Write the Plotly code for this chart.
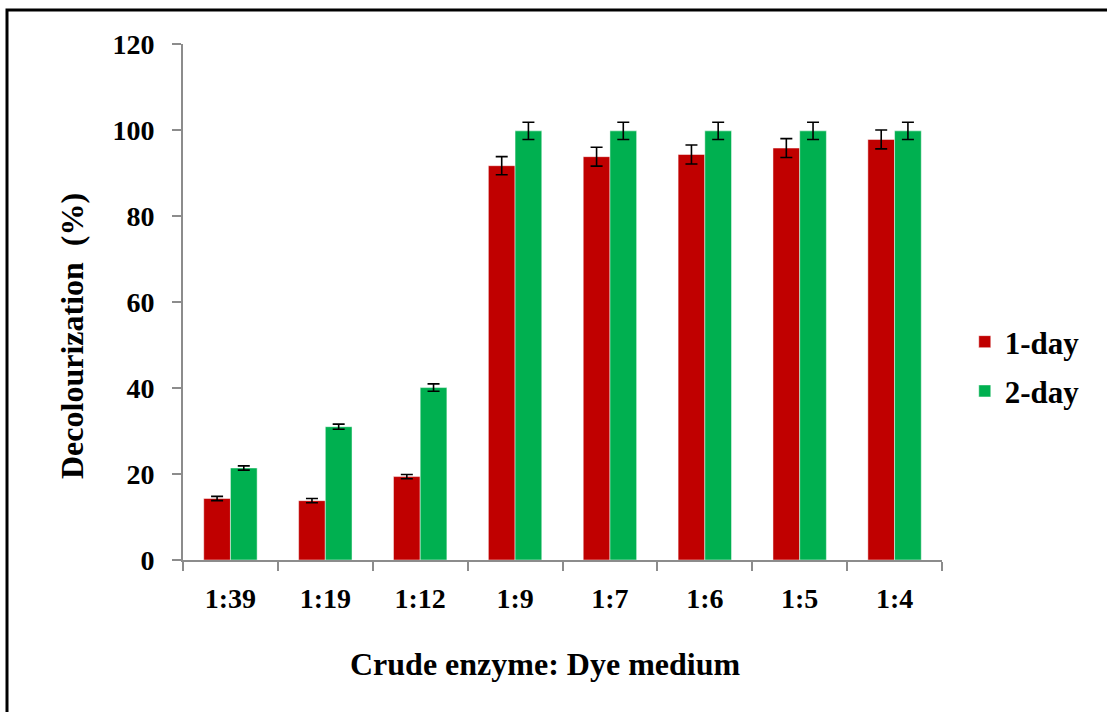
import plotly.graph_objects as go

categories = ["1:39", "1:19", "1:12", "1:9", "1:7", "1:6", "1:5", "1:4"]
day1 = [14.3, 13.8, 19.4, 91.7, 93.8, 94.3, 95.8, 97.8]
day1_err = [0.5, 0.5, 0.5, 2.1, 2.2, 2.2, 2.2, 2.2]
day2 = [21.4, 31.0, 40.1, 99.8, 99.8, 99.8, 99.8, 99.8]
day2_err = [0.5, 0.6, 0.85, 2.0, 2.0, 2.0, 2.0, 2.0]

FONT = "Liberation Serif, Times New Roman, serif"
err_style = dict(type="data", visible=True, color="black", thickness=1.6, width=6)

fig = go.Figure()
fig.add_trace(go.Bar(
    x=categories, y=day1, name="1-day", legendgroup="a",
    marker=dict(color="#C00000", line=dict(color="rgba(255,255,255,0.6)", width=0.8)),
    error_y=dict(array=day1_err, **err_style),
))
fig.add_trace(go.Bar(
    x=categories, y=day2, name="2-day", legendgroup="b",
    marker=dict(color="#00B050", line=dict(color="rgba(255,255,255,0.6)", width=0.8)),
    error_y=dict(array=day2_err, **err_style),
))

fig.update_layout(
    width=1107, height=712,
    margin=dict(l=183, r=165, t=44, b=152),
    paper_bgcolor="white", plot_bgcolor="white",
    barmode="group", bargap=0.437, bargroupgap=0,
    font=dict(family=FONT, color="black"),
    showlegend=True,
    legend=dict(
        x=1.03, y=0.375, xanchor="left", yanchor="middle",
        font=dict(family=FONT, size=31, color="black", weight="bold"),
        tracegroupgap=6, bgcolor="rgba(0,0,0,0)",
    ),
    xaxis=dict(
        showline=True, linecolor="#8c8c8c", linewidth=2,
        ticks="outside", tickson="boundaries", ticklen=9, tickcolor="#8c8c8c", tickwidth=2,
        tickfont=dict(family=FONT, size=28, color="black", weight="bold"),
        ticklabelstandoff=12,
        showgrid=False, zeroline=False,
    ),
    yaxis=dict(
        range=[0, 120], dtick=20, tick0=0,
        showline=True, linecolor="#8c8c8c", linewidth=2,
        ticks="outside", ticklen=9, tickcolor="#8c8c8c", tickwidth=2,
        tickfont=dict(family=FONT, size=28, color="black", weight="bold"),
        ticklabelstandoff=12,
        showgrid=False, zeroline=False,
    ),
)

# axis titles placed as annotations to match reference offsets
fig.add_annotation(text="Crude enzyme: Dye medium", xref="paper", yref="paper",
                   x=(545 - 183) / 759, y=(560 - 664) / 516, xanchor="center", yanchor="middle",
                   showarrow=False,
                   font=dict(family=FONT, size=32, color="black", weight="bold"))
fig.add_annotation(text="Decolourization  (%)", xref="paper", yref="paper",
                   x=(72 - 183) / 759, y=(560 - 336) / 516, xanchor="center", yanchor="middle",
                   textangle=-90, showarrow=False,
                   font=dict(family=FONT, size=32, color="black", weight="bold"))

# outer frame
fig.add_shape(type="rect", xref="paper", yref="paper",
              x0=(7 - 183) / 759, x1=(1115 - 183) / 759,
              y0=(560 - 720) / 516, y1=(560 - 10) / 516,
              line=dict(color="black", width=3), layer="below")

fig.write_html("out.html")
